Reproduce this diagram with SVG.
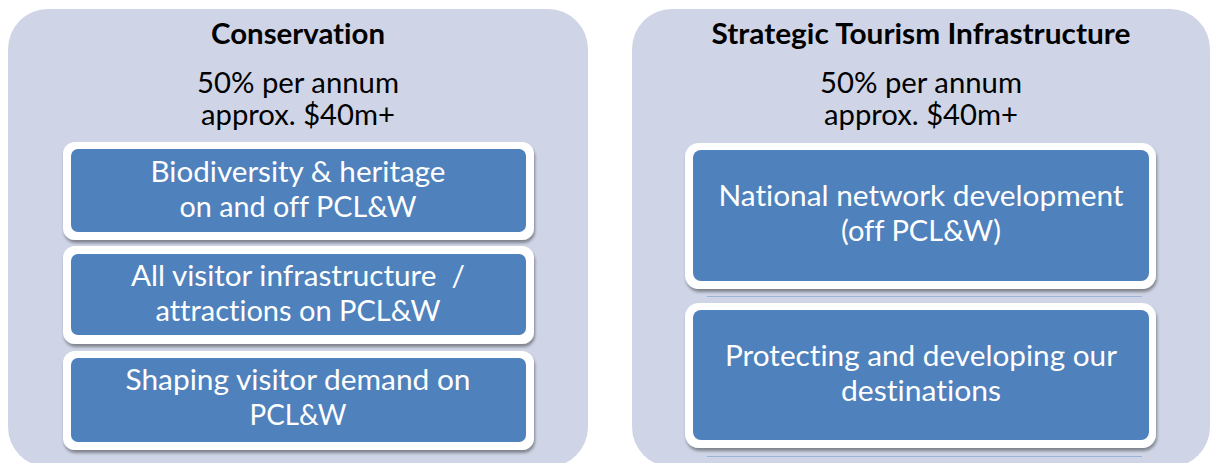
<svg xmlns="http://www.w3.org/2000/svg" width="1215" height="463" viewBox="0 0 1215 463">
  <defs>
    <filter id="shadow" x="-5%" y="-10%" width="110%" height="125%">
      <feDropShadow dx="1" dy="3" stdDeviation="1.6" flood-color="#000" flood-opacity="0.38"/>
    </filter>
    <style>
      .panel { fill: #cfd5e6; }
      .frame { fill: #ffffff; filter: url(#shadow); }
      .card { fill: #4f81bd; }
      text { font-family: Lato, "Liberation Sans", sans-serif; font-size: 29px; text-anchor: middle; font-variant-ligatures: none; font-feature-settings: "liga" 0, "clig" 0; }
      .title { font-weight: bold; fill: #000; }
      .sub { fill: #000; }
      .label { fill: #fff; }
      .rule { stroke: #4f81bd; stroke-width: 1; opacity: 0.4; }
    </style>
  </defs>

  <rect width="1215" height="463" fill="#ffffff"/>

  <!-- Conservation column -->
  <g id="conservation">
    <rect class="panel" x="8" y="9" width="580" height="458" rx="40"/>
    <text class="title" x="298" y="44" textLength="174" lengthAdjust="spacingAndGlyphs">Conservation</text>
    <text class="sub" x="298" y="93" textLength="202" lengthAdjust="spacingAndGlyphs">50% per annum</text>
    <text class="sub" x="298" y="125" textLength="194" lengthAdjust="spacingAndGlyphs">approx. $40m+</text>
  </g>

  <g id="biodiversity">
    <rect class="frame" x="63" y="142" width="471" height="98" rx="12"/>
    <rect class="card" x="71" y="149" width="455" height="83" rx="7"/>
    <text class="label" x="298" y="182" textLength="295" lengthAdjust="spacingAndGlyphs">Biodiversity &amp; heritage</text>
    <text class="label" x="298" y="217" textLength="237" lengthAdjust="spacingAndGlyphs">on and off PCL&amp;W</text>
  </g>

  <g id="visitor-infrastructure">
    <rect class="frame" x="63" y="246" width="471" height="98" rx="12"/>
    <rect class="card" x="71" y="254" width="455" height="81" rx="7"/>
    <text class="label" x="298" y="286" textLength="334" lengthAdjust="spacingAndGlyphs" xml:space="preserve">All visitor infrastructure  /</text>
    <text class="label" x="298" y="321" textLength="285" lengthAdjust="spacingAndGlyphs">attractions on PCL&amp;W</text>
  </g>

  <g id="visitor-demand">
    <rect class="frame" x="63" y="351" width="471" height="99" rx="12"/>
    <rect class="card" x="71" y="358" width="455" height="84" rx="7"/>
    <text class="label" x="298" y="390" textLength="345" lengthAdjust="spacingAndGlyphs">Shaping visitor demand on</text>
    <text class="label" x="298" y="425" textLength="97" lengthAdjust="spacingAndGlyphs">PCL&amp;W</text>
  </g>

  <!-- Strategic Tourism Infrastructure column -->
  <g id="tourism">
    <rect class="panel" x="632" y="9" width="578" height="458" rx="40"/>
    <text class="title" x="921" y="44" textLength="419" lengthAdjust="spacingAndGlyphs">Strategic Tourism Infrastructure</text>
    <text class="sub" x="921" y="93" textLength="202" lengthAdjust="spacingAndGlyphs">50% per annum</text>
    <text class="sub" x="921" y="125" textLength="194" lengthAdjust="spacingAndGlyphs">approx. $40m+</text>
  </g>

  <g id="national-network">
    <rect class="frame" x="685" y="143" width="471" height="146" rx="14"/>
    <rect class="card" x="693" y="150" width="456" height="131" rx="8"/>
    <text class="label" x="921" y="206" textLength="405" lengthAdjust="spacingAndGlyphs">National network development</text>
    <text class="label" x="921" y="241" textLength="160" lengthAdjust="spacingAndGlyphs">(off PCL&amp;W)</text>
  </g>

  <g id="destinations">
    <rect class="frame" x="685" y="303" width="471" height="145" rx="14"/>
    <rect class="card" x="693" y="310" width="456" height="130" rx="8"/>
    <text class="label" x="921" y="366" textLength="392" lengthAdjust="spacingAndGlyphs">Protecting and developing our</text>
    <text class="label" x="921" y="401" textLength="160" lengthAdjust="spacingAndGlyphs">destinations</text>
  </g>

  <!-- no connectors between the cards; faint rules under the right-hand cards -->
  <g id="connectors">
    <line class="rule" x1="707" y1="296.5" x2="1142" y2="296.5"/>
    <line class="rule" x1="707" y1="456.5" x2="1142" y2="456.5"/>
  </g>
</svg>
